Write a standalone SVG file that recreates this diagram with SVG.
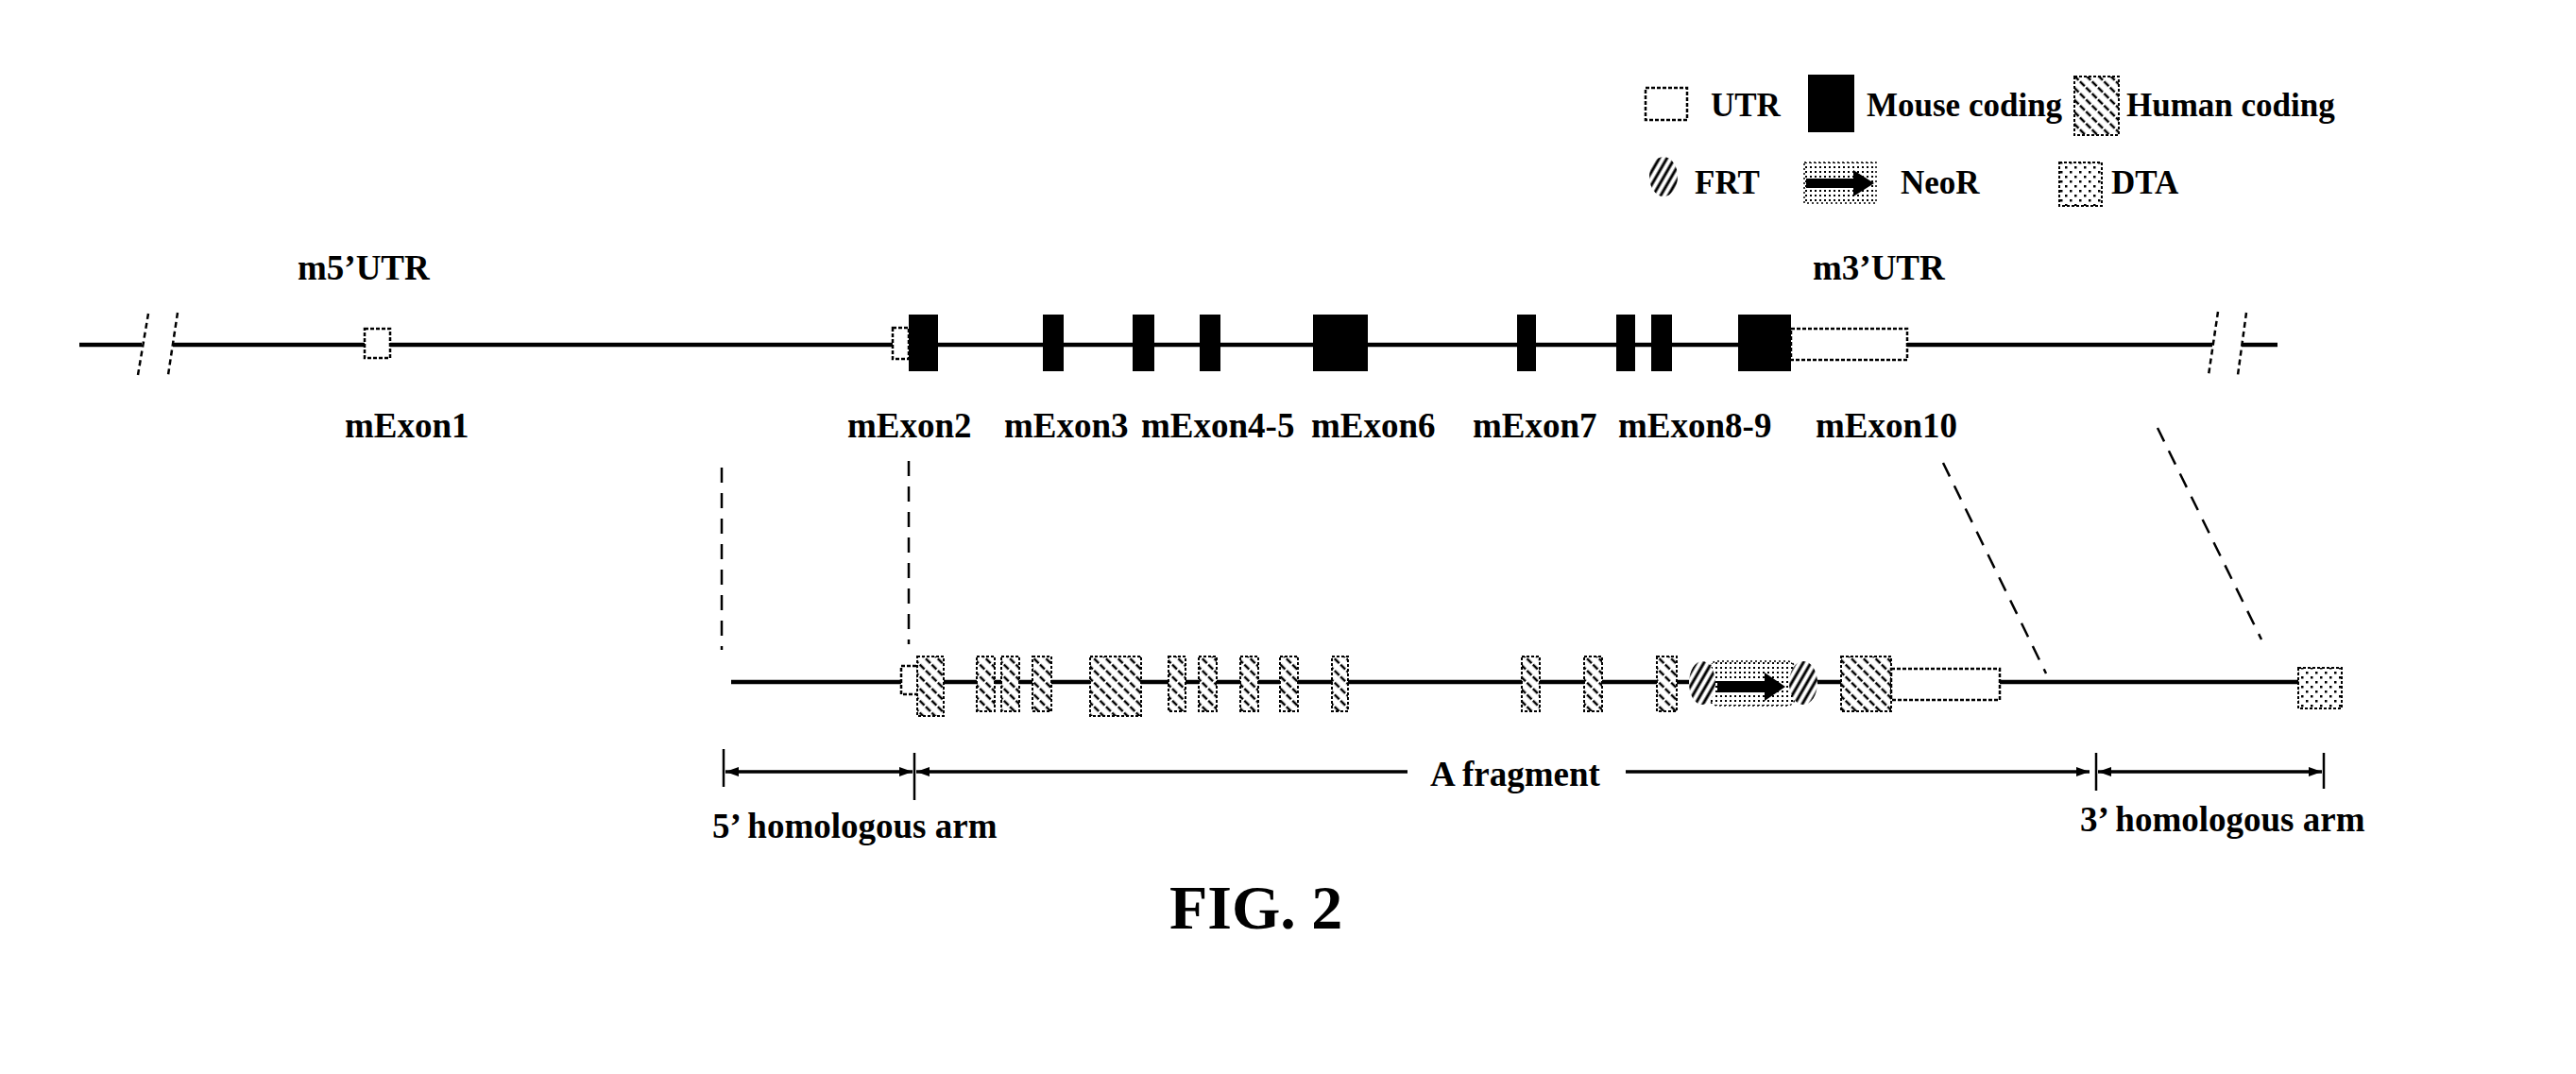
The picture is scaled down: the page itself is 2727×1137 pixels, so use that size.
<svg xmlns="http://www.w3.org/2000/svg" width="2727" height="1137" viewBox="0 0 2727 1137">
<defs>
<style>
text{font-family:"Liberation Serif","Times New Roman",serif;font-weight:bold;fill:#000}
.lbl{font-size:37px}
.leg{font-size:35px}
.fig{font-size:66px}
.dna{stroke:#000;stroke-width:4.5;fill:none}
.brk{stroke:#000;stroke-width:2.5;fill:none;stroke-dasharray:6 4}
.utr{fill:#fff;stroke:#000;stroke-width:2.5;stroke-dasharray:4 2}
.mc{fill:#000}
.hc{fill:url(#hatch);stroke:#000;stroke-width:2;stroke-dasharray:3 2}
.frt{fill:url(#frtp)}
.neo{fill:url(#dots);stroke:#000;stroke-width:1.5;stroke-dasharray:2 3}
.dta{fill:url(#dta);stroke:#000;stroke-width:2;stroke-dasharray:3 2}
.guide{stroke:#000;stroke-width:2.5;fill:none;stroke-dasharray:16 11}
.dim{stroke:#000;stroke-width:3.5;fill:none}
.tick{stroke:#000;stroke-width:2.5;fill:none}
</style>
<pattern id="hatch" patternUnits="userSpaceOnUse" width="9" height="9" patternTransform="rotate(-45)">
<rect width="9" height="9" fill="#fff"/>
<line x1="2" y1="0" x2="2" y2="9" stroke="#000" stroke-width="2.5" stroke-dasharray="5 2"/>
</pattern>
<pattern id="frtp" patternUnits="userSpaceOnUse" width="7" height="7" patternTransform="rotate(30)">
<rect width="7" height="7" fill="#fff"/>
<line x1="2" y1="0" x2="2" y2="7" stroke="#000" stroke-width="3"/>
</pattern>
<pattern id="dots" patternUnits="userSpaceOnUse" width="5" height="5">
<rect width="5" height="5" fill="#fff"/>
<rect x="1" y="1" width="2" height="2" fill="#000"/>
</pattern>
<pattern id="dta" patternUnits="userSpaceOnUse" width="10" height="10">
<rect width="10" height="10" fill="#fff"/>
<rect x="1" y="1" width="2.5" height="2.5" fill="#000"/>
<rect x="6" y="6" width="2.5" height="2.5" fill="#000"/>
</pattern>
<marker id="ah" viewBox="0 0 14 10" markerUnits="userSpaceOnUse" markerWidth="14" markerHeight="10" refX="14" refY="5" orient="auto-start-reverse">
<path d="M0,0 L14,5 L0,10 z" fill="#000"/>
</marker>
</defs>

<g id="legend">
<g id="legend-utr"><rect class="utr" x="1742" y="93" width="44" height="34"/><text class="leg" x="1811" y="123">UTR</text></g>
<g id="legend-mouse"><rect class="mc" x="1914" y="79" width="49" height="61"/><text class="leg" x="1976" y="123">Mouse coding</text></g>
<g id="legend-human"><rect class="hc" x="2196" y="81" width="47" height="62"/><text class="leg" x="2251" y="123">Human coding</text></g>
<g id="legend-frt"><ellipse class="frt" cx="1761" cy="187" rx="15" ry="21"/><text class="leg" x="1794" y="205">FRT</text></g>
<g id="legend-neo"><rect class="neo" x="1910" y="172" width="76" height="43"/><path d="M1912,189 L1962,189 L1962,180 L1984,194 L1962,208 L1962,199 L1912,199 z" fill="#000"/><text class="leg" x="2012" y="205">NeoR</text></g>
<g id="legend-dta"><rect class="dta" x="2180" y="172" width="45" height="46"/><text class="leg" x="2235" y="205">DTA</text></g>
</g>

<g id="wildtype">
<g id="wt-line">
<line class="dna" x1="84" y1="365" x2="150" y2="365"/>
<line class="dna" x1="183" y1="365" x2="2342" y2="365"/>
<line class="dna" x1="2373" y1="365" x2="2411" y2="365"/>
<line class="brk" x1="157" y1="332" x2="146" y2="397"/>
<line class="brk" x1="188" y1="331" x2="178" y2="397"/>
<line class="brk" x1="2348" y1="330" x2="2338" y2="397"/>
<line class="brk" x1="2378" y1="331" x2="2369" y2="397"/>
</g>
<g id="m5utr"><text class="lbl" x="315" y="296">m5’UTR</text></g>
<g id="m3utr"><text class="lbl" x="1919" y="296">m3’UTR</text></g>
<g id="mExon1"><rect class="utr" x="386" y="348" width="27" height="31"/><text class="lbl" x="365" y="463">mExon1</text></g>
<g id="mExon2"><rect class="utr" x="945" y="347" width="17" height="33"/><rect class="mc" x="962" y="333" width="31" height="60"/><text class="lbl" x="897" y="463">mExon2</text></g>
<g id="mExon3"><rect class="mc" x="1104" y="333" width="22" height="60"/><text class="lbl" x="1063" y="463">mExon3</text></g>
<g id="mExon4-5"><rect class="mc" x="1199" y="333" width="23" height="60"/><rect class="mc" x="1270" y="333" width="22" height="60"/><text class="lbl" x="1208" y="463">mExon4-5</text></g>
<g id="mExon6"><rect class="mc" x="1390" y="333" width="58" height="60"/><text class="lbl" x="1388" y="463">mExon6</text></g>
<g id="mExon7"><rect class="mc" x="1606" y="333" width="20" height="60"/><text class="lbl" x="1559" y="463">mExon7</text></g>
<g id="mExon8-9"><rect class="mc" x="1711" y="333" width="20" height="60"/><rect class="mc" x="1748" y="333" width="22" height="60"/><text class="lbl" x="1713" y="463">mExon8-9</text></g>
<g id="mExon10"><rect class="mc" x="1840" y="333" width="56" height="60"/><rect class="utr" x="1896" y="348" width="123" height="33"/><text class="lbl" x="1922" y="463">mExon10</text></g>
</g>

<g id="targeting">
<g id="tv-line">
<line class="dna" x1="774" y1="722" x2="2433" y2="722"/>
</g>
<g id="tv-exon2"><rect class="utr" x="954" y="705" width="18" height="30"/><rect class="hc" x="971" y="695" width="28" height="63"/></g>
<g id="tv-exon3"><rect class="hc" x="1034" y="695" width="19" height="58"/></g>
<g id="tv-exon4"><rect class="hc" x="1060" y="695" width="19" height="58"/></g>
<g id="tv-exon5"><rect class="hc" x="1093" y="695" width="20" height="58"/></g>
<g id="tv-exon6"><rect class="hc" x="1154" y="695" width="54" height="63"/></g>
<g id="tv-exon7"><rect class="hc" x="1237" y="695" width="18" height="58"/></g>
<g id="tv-exon8"><rect class="hc" x="1269" y="695" width="19" height="58"/></g>
<g id="tv-exon9"><rect class="hc" x="1313" y="695" width="19" height="58"/></g>
<g id="tv-exon10"><rect class="hc" x="1355" y="695" width="19" height="58"/></g>
<g id="tv-exon11"><rect class="hc" x="1410" y="695" width="17" height="58"/></g>
<g id="tv-exon12"><rect class="hc" x="1611" y="695" width="19" height="58"/></g>
<g id="tv-exon13"><rect class="hc" x="1677" y="695" width="19" height="58"/></g>
<g id="tv-exon14"><rect class="hc" x="1754" y="695" width="21" height="58"/></g>
<g id="tv-neo">
<rect class="neo" x="1810" y="700" width="90" height="47" rx="8"/>
<path d="M1818,721 L1868,721 L1868,712 L1890,727 L1868,742 L1868,733 L1818,733 z" fill="#000"/>
<ellipse class="frt" cx="1802" cy="723" rx="14" ry="23"/>
<ellipse class="frt" cx="1909" cy="723" rx="15" ry="23"/>
</g>
<g id="tv-exon15"><rect class="hc" x="1949" y="695" width="53" height="58"/><rect class="utr" x="2002" y="708" width="115" height="33"/></g>
<g id="tv-dta"><rect class="dta" x="2433" y="707" width="46" height="43"/></g>
</g>

<g id="connectors">
<line class="guide" x1="764" y1="495" x2="764" y2="688"/>
<line class="guide" x1="962" y1="488" x2="962" y2="682"/>
<line class="guide" x1="2057" y1="490" x2="2166" y2="713"/>
<line class="guide" x1="2284" y1="453" x2="2394" y2="677"/>
<line class="tick" x1="766" y1="793" x2="766" y2="833"/>
<line class="tick" x1="968" y1="797" x2="968" y2="847"/>
<line class="tick" x1="2219" y1="797" x2="2219" y2="837"/>
<line class="tick" x1="2460" y1="797" x2="2460" y2="835"/>
<line class="dim" x1="768" y1="817" x2="966" y2="817" marker-start="url(#ah)" marker-end="url(#ah)"/>
<line class="dim" x1="1490" y1="817" x2="970" y2="817" marker-end="url(#ah)"/>
<line class="dim" x1="1721" y1="817" x2="2212" y2="817" marker-end="url(#ah)"/>
<line class="dim" x1="2221" y1="817" x2="2458" y2="817" marker-start="url(#ah)" marker-end="url(#ah)"/>
</g>

<g id="dim-labels">
<text class="lbl" x="754" y="887">5’ homologous arm</text>
<text class="lbl" x="1514" y="832">A fragment</text>
<text class="lbl" x="2202" y="880">3’ homologous arm</text>
</g>

<text class="fig" x="1238" y="983">FIG. 2</text>
</svg>
